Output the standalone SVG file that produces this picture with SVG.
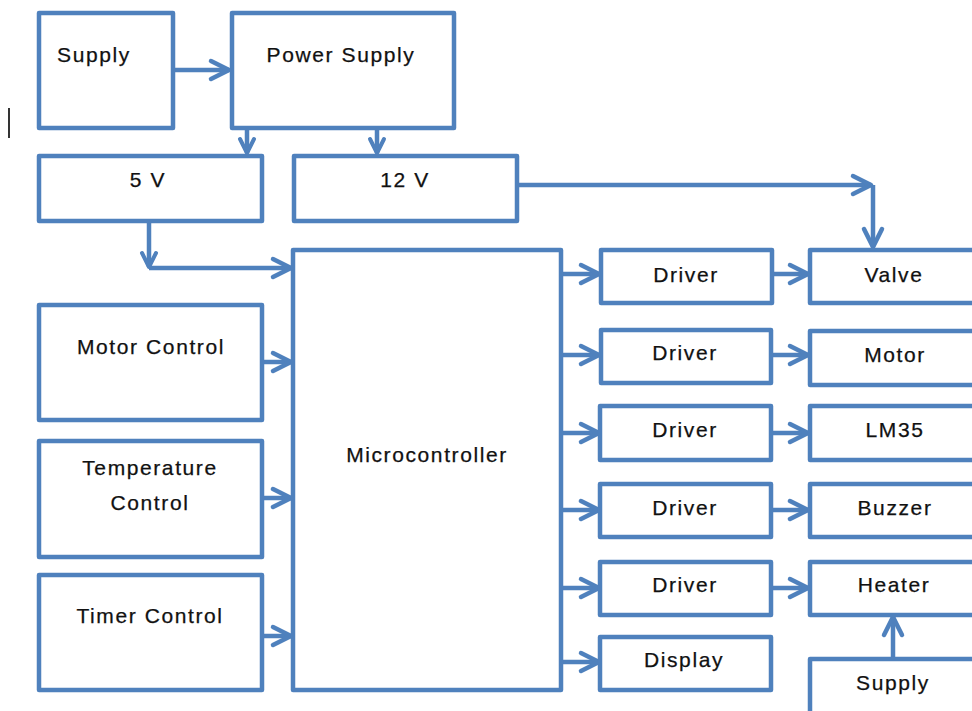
<svg xmlns="http://www.w3.org/2000/svg" width="972" height="711" viewBox="0 0 972 711">
<style>
.b{fill:#fff;stroke:#4f81bd;stroke-width:4.5;stroke-linejoin:round}
.c{fill:none;stroke:#4f81bd;stroke-width:4.5}
text{font-family:"Liberation Sans",Arial,sans-serif;font-size:21px;fill:#111;text-anchor:middle;letter-spacing:1.6px;stroke:#111;stroke-width:0.25px}
</style>
<defs>
<marker id="ah" markerUnits="userSpaceOnUse" markerWidth="26" markerHeight="26" viewBox="0 0 26 26" refX="22" refY="13" orient="auto" overflow="visible">
<path d="M4,4 L22,13 L4,22" fill="none" stroke="#4f81bd" stroke-width="4.5" stroke-linecap="round" stroke-linejoin="round"/>
</marker>
<marker id="as" markerUnits="userSpaceOnUse" markerWidth="26" markerHeight="26" viewBox="0 0 26 26" refX="22" refY="13" orient="auto" overflow="visible">
<path d="M8,6 L22,13 L8,20" fill="none" stroke="#4f81bd" stroke-width="4" stroke-linecap="round" stroke-linejoin="round"/>
</marker>
</defs>
<rect width="972" height="711" fill="#fff"/>
<line x1="9" y1="108" x2="9" y2="138" stroke="#000" stroke-width="1.6"/>
<g id="connectors">
<path class="c" d="M173,70 H229" marker-end="url(#ah)"/>
<path class="c" d="M247,128 V153" marker-end="url(#as)"/>
<path class="c" d="M377,128 V153" marker-end="url(#as)"/>
<path class="c" d="M149,221 V267" marker-end="url(#as)"/>
<path class="c" d="M149,268 H291" marker-end="url(#ah)"/>
<path class="c" d="M517,185 H871" marker-end="url(#ah)"/>
<path class="c" d="M873,185 V247" marker-end="url(#ah)"/>
<path class="c" d="M262,362 H291" marker-end="url(#ah)"/>
<path class="c" d="M262,498 H291" marker-end="url(#ah)"/>
<path class="c" d="M262,636 H291" marker-end="url(#ah)"/>
<path class="c" d="M561,274 H599" marker-end="url(#ah)"/>
<path class="c" d="M561,355 H599" marker-end="url(#ah)"/>
<path class="c" d="M561,433 H599" marker-end="url(#ah)"/>
<path class="c" d="M561,510 H599" marker-end="url(#ah)"/>
<path class="c" d="M561,588 H599" marker-end="url(#ah)"/>
<path class="c" d="M561,662 H599" marker-end="url(#ah)"/>
<path class="c" d="M772,274 H808" marker-end="url(#ah)"/>
<path class="c" d="M772,355 H808" marker-end="url(#ah)"/>
<path class="c" d="M772,433 H808" marker-end="url(#ah)"/>
<path class="c" d="M772,510 H808" marker-end="url(#ah)"/>
<path class="c" d="M772,588 H808" marker-end="url(#ah)"/>
<path class="c" d="M893,658 V617" marker-end="url(#ah)"/>
</g>
<g id="supply"><rect class="b" x="39" y="13" width="134" height="115"/><text x="94" y="62">Supply</text></g>
<g id="power-supply"><rect class="b" x="232" y="13" width="222" height="115"/><text x="341" y="62">Power Supply</text></g>
<g id="v5"><rect class="b" x="39" y="156" width="223" height="65"/><text x="148" y="187">5 V</text></g>
<g id="v12"><rect class="b" x="294" y="156" width="223" height="65"/><text x="405" y="187">12 V</text></g>
<g id="motor-control"><rect class="b" x="39" y="305" width="223" height="115"/><text x="151" y="354">Motor Control</text></g>
<g id="temperature-control"><rect class="b" x="39" y="441" width="223" height="116"/><text x="150" y="475">Temperature</text><text x="150" y="510">Control</text></g>
<g id="timer-control"><rect class="b" x="39" y="575" width="223" height="115"/><text x="150" y="623">Timer Control</text></g>
<g id="microcontroller"><rect class="b" x="293" y="250" width="268" height="440"/><text x="427" y="462">Microcontroller</text></g>
<g id="driver1"><rect class="b" x="601" y="250" width="171" height="53"/><text x="686" y="282">Driver</text></g>
<g id="driver2"><rect class="b" x="601" y="330" width="170" height="53"/><text x="685" y="360">Driver</text></g>
<g id="driver3"><rect class="b" x="600" y="406" width="171" height="54"/><text x="685" y="437">Driver</text></g>
<g id="driver4"><rect class="b" x="600" y="484" width="171" height="53"/><text x="685" y="515">Driver</text></g>
<g id="driver5"><rect class="b" x="600" y="562" width="171" height="53"/><text x="685" y="592">Driver</text></g>
<g id="display"><rect class="b" x="600" y="637" width="171" height="53"/><text x="684" y="667">Display</text></g>
<g id="valve"><rect class="b" x="810" y="250" width="200" height="53"/><text x="894" y="282">Valve</text></g>
<g id="motor"><rect class="b" x="810" y="331" width="200" height="54"/><text x="895" y="362">Motor</text></g>
<g id="lm35"><rect class="b" x="810" y="406" width="200" height="54"/><text x="895" y="437">LM35</text></g>
<g id="buzzer"><rect class="b" x="810" y="484" width="200" height="53"/><text x="895" y="515">Buzzer</text></g>
<g id="heater"><rect class="b" x="810" y="562" width="200" height="53"/><text x="894" y="592">Heater</text></g>
<g id="supply2"><rect class="b" x="810" y="659" width="200" height="60"/><text x="893" y="690">Supply</text></g>
</svg>
